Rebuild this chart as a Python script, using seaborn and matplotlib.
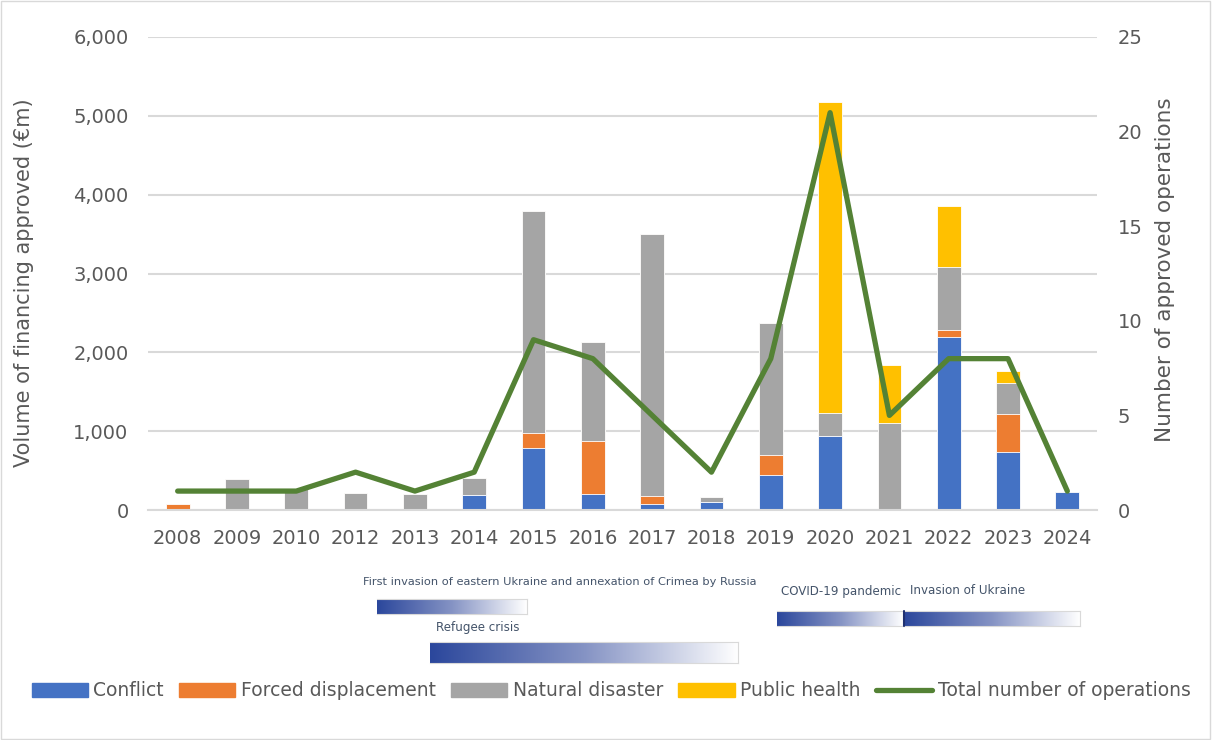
import numpy as np
import pandas as pd
import matplotlib
matplotlib.use("Agg")
import matplotlib.pyplot as plt
from matplotlib.patches import Patch, Rectangle
from matplotlib.lines import Line2D
from matplotlib.colors import LinearSegmentedColormap
import seaborn as sns

years = ["2008", "2009", "2010", "2012", "2013", "2014", "2015", "2016",
         "2017", "2018", "2019", "2020", "2021", "2022", "2023", "2024"]
conflict = [0, 0, 0, 0, 0, 190, 785, 205, 75, 100, 445, 940, 0, 2195, 735, 230]
forced = [80, 0, 0, 0, 0, 0, 190, 670, 100, 0, 255, 0, 0, 90, 485, 0]
natural = [0, 390, 270, 215, 205, 215, 2815, 1255, 3325, 65, 1670, 290, 1100, 800, 390, 0]
public = [0, 0, 0, 0, 0, 0, 0, 0, 0, 0, 0, 3950, 740, 775, 155, 0]
operations = [1, 1, 1, 2, 1, 2, 9, 8, 5, 2, 8, 21, 5, 8, 8, 1]

c_conf, c_forc, c_nat, c_pub = "#4472C4", "#ED7D31", "#A5A5A5", "#FFC000"
c_line = "#548235"

df = pd.DataFrame({"year": years, "conflict": conflict, "forced": forced,
                   "natural": natural, "public": public, "ops": operations})
df["c1"] = df["conflict"]
df["c2"] = df["c1"] + df["forced"]
df["c3"] = df["c2"] + df["natural"]
df["c4"] = df["c3"] + df["public"]

sns.set_theme(style="white")
plt.rcParams["font.family"] = ["DejaVu Sans"]

fig = plt.figure(figsize=(12.12, 7.40), dpi=100)
ax = fig.add_axes([148 / 1212, 1 - 510 / 740, (1097 - 148) / 1212, (510 - 37) / 740])

for col, color in [("c4", c_pub), ("c3", c_nat), ("c2", c_forc), ("c1", c_conf)]:
    sns.barplot(data=df, x="year", y=col, color=color, width=0.4, ax=ax,
                edgecolor="white", linewidth=0.6, saturation=1, order=years)

ax.set_ylim(0, 6000)
ax.set_yticks(np.arange(0, 6001, 1000))
ax.set_yticklabels([f"{v:,}" for v in range(0, 6001, 1000)])
ax.set_xlim(-0.5, len(years) - 0.5)
ax.yaxis.grid(True, color="#D9D9D9", linewidth=1.5)
ax.set_axisbelow(True)
for s in ["top", "right", "left"]:
    ax.spines[s].set_visible(False)
ax.spines["bottom"].set_color("#D9D9D9")
ax.spines["bottom"].set_linewidth(1.5)
ax.tick_params(axis="both", colors="#595959", labelsize=14, length=0)
ax.tick_params(axis="x", pad=14)
ax.tick_params(axis="y", pad=14)
ax.set_xlabel("")
ax.set_ylabel("")

ax2 = ax.twinx()
sns.lineplot(x=np.arange(len(years)), y=df["ops"], ax=ax2, color=c_line,
             linewidth=3.8, solid_joinstyle="round", solid_capstyle="round")
ax2.set_ylim(0, 25)
ax2.set_yticks(np.arange(0, 26, 5))
ax2.set_xlim(-0.5, len(years) - 0.5)
for s in ax2.spines.values():
    s.set_visible(False)
ax2.tick_params(axis="y", colors="#595959", labelsize=14, length=0, pad=15)
ax2.set_ylabel("")
ax2.grid(False)

fig.text(24 / 1212, 1 - 283 / 740, "Volume of financing approved (€m)", rotation=90,
         ha="center", va="center", fontsize=15, color="#595959")
fig.text(1165 / 1212, 1 - 270 / 740, "Number of approved operations", rotation=90,
         ha="center", va="center", fontsize=15.5, color="#595959")

# timeline annotations
cmap = LinearSegmentedColormap.from_list("g", ["#2B479C", "#8593C4", "#FFFFFF"])
grad = np.linspace(0, 1, 256).reshape(1, -1)

def gbar(x0, x1, y0, y1):
    a = fig.add_axes([x0 / 1212, 1 - y1 / 740, (x1 - x0) / 1212, (y1 - y0) / 740])
    a.imshow(grad, aspect="auto", cmap=cmap, extent=[0, 1, 0, 1])
    a.set_xticks([]); a.set_yticks([])
    for s in a.spines.values():
        s.set_color("#D9D9D9"); s.set_linewidth(0.8)
    a.spines["left"].set_visible(False)
    return a

gbar(377, 527, 599, 614)
gbar(430, 738, 642, 663)
gbar(777, 904, 611, 626)
gbar(904, 1080, 611, 626)
fig.add_artist(Line2D([904 / 1212, 904 / 1212], [1 - 611 / 740, 1 - 626 / 740],
                      color="#1F3070", linewidth=1.5))

tc = "#44546A"
fig.text(560 / 1212, 1 - 582 / 740, "First invasion of eastern Ukraine and annexation of Crimea by Russia",
         ha="center", va="center", fontsize=8.2, color=tc)
fig.text(436 / 1212, 1 - 627 / 740, "Refugee crisis", ha="left", va="center", fontsize=8.6, color=tc)
fig.text(781 / 1212, 1 - 591 / 740, "COVID-19 pandemic", ha="left", va="center", fontsize=8.6, color=tc)
fig.text(910 / 1212, 1 - 591 / 740, "Invasion of Ukraine", ha="left", va="center", fontsize=8.6, color=tc)

handles = [Patch(color=c_conf, label="Conflict"),
           Patch(color=c_forc, label="Forced displacement"),
           Patch(color=c_nat, label="Natural disaster"),
           Patch(color=c_pub, label="Public health"),
           Line2D([0], [0], color=c_line, linewidth=3.8, label="Total number of operations")]
leg = fig.legend(handles=handles, loc="center", bbox_to_anchor=(611 / 1212, 1 - 691 / 740),
                 ncol=5, frameon=False, fontsize=13.5, handlelength=3.0, handleheight=0.75,
                 handletextpad=0.3, columnspacing=0.8, labelcolor="#595959")

fig.add_artist(Rectangle((0.001, 0.001), 0.997, 0.997, transform=fig.transFigure,
                         fill=False, edgecolor="#D9D9D9", linewidth=1))

fig.savefig("out.png", dpi=100, facecolor="white")
